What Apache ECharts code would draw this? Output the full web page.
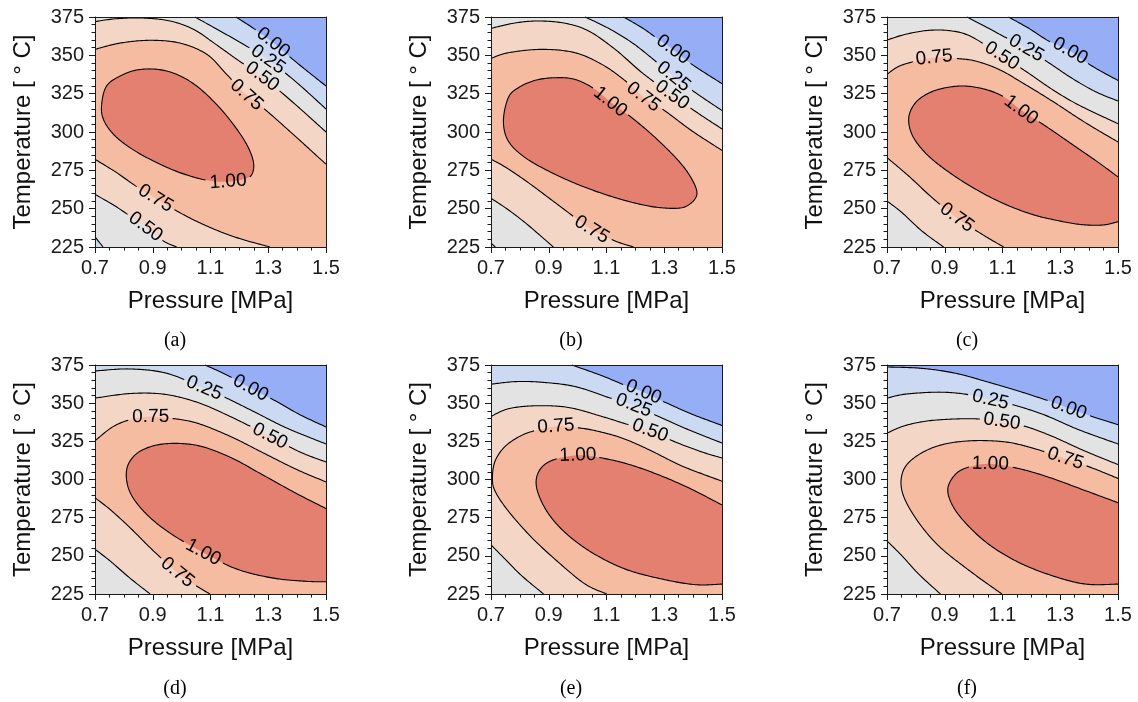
<!DOCTYPE html>
<html><head><meta charset="utf-8">
<script src="https://cdn.jsdelivr.net/npm/echarts@6/dist/echarts.min.js"></script>
<style>html,body{margin:0;padding:0;background:#fff}#c{width:1138px;height:702px}</style>
</head><body><div id="c"></div>
<script>
// ---------------- data ----------------
const levels = [0.00, 0.25, 0.50, 0.75, 1.00];
const bandColors = ['#95aef5', '#cbd9f3', '#e3e3e3', '#f4d6c7', '#f6bca2', '#e48070'];
const captions = ['(a)', '(b)', '(c)', '(d)', '(e)', '(f)'];
const xRange = [0.7, 1.5];   // Pressure [MPa], ticks every 0.2
const yRange = [225, 375];   // Temperature [°C], ticks every 25

// contour curves: [level, 'o' (open, ends on frame; higher values on its right) | 'c' (closed), points [P, T]]
const curvesA = [
  [0.00, 'o', [[1.188,375],[1.249,367.6],[1.317,358.3],[1.399,345.2],[1.5,330]]],
  [0.25, 'o', [[1.046,375],[1.133,365.9],[1.214,357.2],[1.299,347.2],[1.399,332.2],[1.5,315]]],
  [0.25, 'o', [[0.728,225],[0.713,228.5],[0.7,231.7]]],
  [0.50, 'o', [[0.7,372],[0.775,373.9],[0.867,374.3],[0.96,372.4],[1.041,367],[1.11,358.3],[1.191,347.4],[1.279,336.1],[1.387,319.1],[1.5,300]]],
  [0.50, 'o', [[0.983,225],[0.937,228.9],[0.879,237.6],[0.821,245.2],[0.764,252.4],[0.7,259.3]]],
  [0.75, 'o', [[0.7,353.9],[0.787,358],[0.891,359.8],[0.994,358],[1.087,350.7],[1.156,337.6],[1.225,324.1],[1.295,313.7],[1.399,296.3],[1.5,279]]],
  [0.75, 'o', [[1.306,225],[1.191,231.1],[1.087,238.7],[0.983,248.5],[0.85,263.7],[0.775,273.5],[0.7,282.2]]],
  [1.00, 'c', [[0.723,318],[0.74,330],[0.787,336.5],[0.844,340.4],[0.914,340.9],[0.983,337.6],[1.052,330],[1.121,318],[1.179,305],[1.225,292],[1.248,281.1],[1.246,273.5],[1.225,269.8],[1.161,267.6],[1.087,268.5],[0.994,273.5],[0.902,281.1],[0.821,289.8],[0.764,298.5],[0.729,308.3]]]
];
const labelsA = [[0.00,1.317,358.3],[0.25,1.299,347.2],[0.50,1.279,336.1],[0.75,1.225,324.1],[1.00,1.161,267.6],[0.75,0.911,256.1],[0.50,0.873,237.6]];

const curvesB = [
  [0.00, 'o', [[1.159,375],[1.223,368],[1.275,361.1],[1.331,353.7],[1.396,344.1],[1.5,331.5]]],
  [0.25, 'o', [[1.026,375],[1.107,367.6],[1.188,358.3],[1.269,346.3],[1.332,336.1],[1.413,325],[1.5,314]]],
  [0.25, 'o', [[0.715,225],[0.7,227.5]]],
  [0.50, 'o', [[0.7,367.6],[0.783,371.1],[0.864,372.4],[0.957,370.9],[1.038,365.9],[1.13,353.9],[1.223,338.7],[1.327,324.1],[1.419,312],[1.5,302]]],
  [0.50, 'o', [[0.916,225],[0.818,240.9],[0.749,250.7],[0.7,256.7]]],
  [0.75, 'o', [[0.7,348],[0.76,351.7],[0.876,353.9],[0.991,351.7],[1.084,344.1],[1.159,334.3],[1.228,322.8],[1.303,313.7],[1.396,300.7],[1.5,288]]],
  [0.75, 'o', [[1.194,225],[1.13,228.9],[1.049,236.3],[0.945,250.7],[0.829,267],[0.749,277.2],[0.7,282.2]]],
  [1.00, 'c', [[0.743,307.2],[0.76,322.4],[0.795,328.9],[0.853,333.7],[0.922,335.4],[0.991,334.3],[1.061,327.8],[1.113,319.6],[1.188,309.3],[1.269,296.3],[1.35,281.1],[1.396,269.1],[1.413,259.3],[1.384,252.4],[1.338,250.2],[1.246,251.7],[1.13,257.2],[1.014,264.8],[0.91,273.5],[0.818,283.3],[0.76,294.1]]]
];
const labelsB = [[0.00,1.331,353.7],[0.25,1.332,336.1],[0.50,1.327,324.1],[0.75,1.228,322.8],[1.00,1.113,319.6],[0.75,1.049,236.3]];

const curvesC = [
  [0.00, 'o', [[1.121,375],[1.191,367.6],[1.26,359.3],[1.334,352.8],[1.41,343],[1.5,333.6]]],
  [0.25, 'o', [[0.977,375],[1.052,367.6],[1.116,361.1],[1.182,354.6],[1.26,345.2],[1.341,335],[1.422,326.3],[1.5,320.2]]],
  [0.50, 'o', [[0.7,360],[0.764,363.7],[0.844,366.3],[0.925,365.9],[0.994,362],[1.098,349.6],[1.179,339.8],[1.272,327.8],[1.364,317.6],[1.5,305.4]]],
  [0.50, 'o', [[0.896,225],[0.821,235.4],[0.752,247.4],[0.7,255]]],
  [0.75, 'o', [[0.7,337.6],[0.752,343.7],[0.863,348.5],[0.937,348],[1.006,346.3],[1.087,340.9],[1.168,332.2],[1.272,320.2],[1.387,306.1],[1.5,293.5]]],
  [0.75, 'o', [[1.104,225],[1.029,233.3],[0.942,244.1],[0.856,257.2],[0.775,271.3],[0.7,283.3]]],
  [1.00, 'o', [[1.5,241.5],[1.445,239.3],[1.364,239.8],[1.272,243],[1.202,246.3],[1.11,252.8],[1.018,261.5],[0.925,272.4],[0.844,284.3],[0.792,296.3],[0.775,307.2],[0.787,315.9],[0.821,322.8],[0.879,327.8],[0.96,330],[1.041,327.8],[1.11,322.4],[1.164,314.3],[1.249,303.9],[1.341,292],[1.433,280],[1.5,270.7]]]
];
const labelsC = [[0.00,1.334,352.8],[0.25,1.182,354.6],[0.50,1.098,349.6],[0.75,0.863,348.5],[1.00,1.164,314.3],[0.75,0.942,244.1]];

const curvesD = [
  [0.00, 'o', [[1.081,375],[1.156,368.5],[1.239,359.8],[1.329,351.1],[1.41,342.4],[1.5,334.4]]],
  [0.25, 'o', [[0.7,371.1],[0.821,372.4],[0.948,369.6],[1.078,359.8],[1.145,354.3],[1.249,344.6],[1.364,333.7],[1.5,323.3]]],
  [0.50, 'o', [[0.7,353.3],[0.821,356.3],[0.937,355.9],[1.052,350.7],[1.168,341.3],[1.306,328.3],[1.41,318],[1.5,311.5]]],
  [0.50, 'o', [[0.891,225],[0.821,235.4],[0.752,246.7],[0.7,254.3]]],
  [0.75, 'o', [[0.7,325.4],[0.764,334.8],[0.833,339.8],[0.893,341.1],[0.96,340.2],[1.052,337],[1.168,328.3],[1.283,317.4],[1.399,306.5],[1.5,298.4]]],
  [0.75, 'o', [[1.098,225],[1.041,231.5],[0.985,239.1],[0.902,253.3],[0.821,268.5],[0.752,280.4],[0.7,288]]],
  [1.00, 'o', [[1.5,233],[1.433,233.3],[1.318,235.4],[1.191,241.3],[1.075,252.2],[0.971,263.5],[0.891,275],[0.833,287.6],[0.81,298.9],[0.815,309.8],[0.856,318.5],[0.937,323.3],[1.052,322.4],[1.168,314.6],[1.283,302.8],[1.399,290.7],[1.5,281]]]
];
const labelsD = [[0.00,1.239,359.8],[0.25,1.078,359.8],[0.50,1.306,328.3],[0.75,0.893,341.1],[1.00,1.075,252.2],[0.75,0.985,239.1]];

const curvesE = [
  [0.00, 'o', [[0.98,375],[1.084,368],[1.153,362.6],[1.228,357.2],[1.292,351.5],[1.396,342.8],[1.5,335.4]]],
  [0.25, 'o', [[0.7,362.4],[0.783,364.1],[0.876,363.7],[0.991,360.9],[1.107,353.7],[1.194,348.5],[1.28,341.3],[1.384,332.6],[1.5,323.9]]],
  [0.50, 'o', [[0.7,341.3],[0.76,346.3],[0.853,348.3],[0.968,347.2],[1.084,341.3],[1.176,335.9],[1.251,332],[1.338,324.6],[1.431,318],[1.5,314.1]]],
  [0.50, 'o', [[0.882,225],[0.806,237],[0.749,247.8],[0.7,257.2]]],
  [0.75, 'o', [[1.101,225],[1.026,231.5],[0.934,245.7],[0.841,262],[0.76,279.3],[0.714,292.4],[0.705,301.1],[0.714,312],[0.749,321.7],[0.806,328.9],[0.864,332.6],[0.925,334.8],[0.991,334.1],[1.061,332],[1.153,327.2],[1.246,319.6],[1.35,309.8],[1.431,303.7],[1.5,298.9]]],
  [1.00, 'o', [[1.5,231.5],[1.408,231.1],[1.292,234.8],[1.165,241.3],[1.049,252.2],[0.957,265.2],[0.893,279.3],[0.858,294.6],[0.866,305.4],[0.91,312.4],[1.001,315.9],[1.095,313.7],[1.188,309.3],[1.292,302.2],[1.396,293.5],[1.5,283.3]]]
];
const labelsE = [[0.00,1.228,357.2],[0.25,1.194,348.5],[0.50,1.251,332],[0.75,0.925,334.8],[1.00,1.001,315.9]];

const curvesF = [
  [0.00, 'o', [[0.7,373.7],[0.821,372.8],[0.937,369.6],[1.052,363.7],[1.168,357.2],[1.272,350.7],[1.329,346.7],[1.399,342],[1.5,335.9]]],
  [0.25, 'o', [[0.7,353.3],[0.764,355.9],[0.879,357.2],[0.971,355.9],[1.058,352.2],[1.145,348.5],[1.249,342],[1.364,332.6],[1.5,323.3]]],
  [0.50, 'o', [[0.7,330.4],[0.764,335.4],[0.856,338.7],[0.994,339.8],[1.098,338],[1.179,334.8],[1.272,328.3],[1.387,318.5],[1.5,309.8]]],
  [0.50, 'o', [[0.885,225],[0.81,238],[0.752,250],[0.7,259.8]]],
  [0.75, 'o', [[1.098,225],[0.994,239.1],[0.879,256.5],[0.798,275],[0.752,292.4],[0.758,306.5],[0.81,316.3],[0.891,322.8],[0.994,325.4],[1.11,324.6],[1.202,320.7],[1.318,313.7],[1.41,307.6],[1.5,300.7]]],
  [1.00, 'o', [[1.5,231.5],[1.387,231.5],[1.272,237],[1.156,245.7],[1.052,257.6],[0.971,271.7],[0.925,283.7],[0.911,294.6],[0.942,304.3],[0.994,308.7],[1.058,310.2],[1.156,307.2],[1.26,301.5],[1.376,293.5],[1.5,284.8]]]
];
const labelsF = [[0.25,1.058,352.2],[0.00,1.329,346.7],[0.50,1.098,338],[0.75,1.318,313.7],[1.00,1.058,310.2]];

const panelCurves = [curvesA, curvesB, curvesC, curvesD, curvesE, curvesF];
const panelLabels = [labelsA, labelsB, labelsC, labelsD, labelsE, labelsF];

// ---------------- drawing helpers ----------------
const clamp = (v, a, b) => Math.max(a, Math.min(b, v));
function smooth(p, closed) {
  const n = p.length, out = [];
  if (n < 3) return p.slice();
  const get = i => closed ? p[(i + n) % n] : p[Math.max(0, Math.min(n - 1, i))];
  const segs = closed ? n : n - 1;
  for (let i = 0; i < segs; i++) {
    const p0 = get(i - 1), p1 = get(i), p2 = get(i + 1), p3 = get(i + 2);
    const L = Math.hypot(p2[0] - p1[0], p2[1] - p1[1]);
    const m = Math.max(2, Math.ceil(L / 1.5));
    for (let k = 0; k < m; k++) {
      const t = k / m, t2 = t * t, t3 = t2 * t;
      out.push([0, 1].map(j => 0.5 * (2 * p1[j] + (-p0[j] + p2[j]) * t +
        (2 * p0[j] - 5 * p1[j] + 4 * p2[j] - p3[j]) * t2 +
        (-p0[j] + 3 * p1[j] - 3 * p2[j] + p3[j]) * t3)));
    }
  }
  if (!closed) out.push(p[n - 1].slice());
  return out;
}
function perim(q, R) {
  const w = R.x1 - R.x0, h = R.y1 - R.y0;
  const d = [q[1] - R.y0, R.x1 - q[0], R.y1 - q[1], q[0] - R.x0];
  let k = 0; for (let i = 1; i < 4; i++) if (d[i] < d[k]) k = i;
  if (k === 0) return (q[0] - R.x0) / w;
  if (k === 1) return 1 + (q[1] - R.y0) / h;
  if (k === 2) return 2 + (R.x1 - q[0]) / w;
  return 3 + (R.y1 - q[1]) / h;
}
function buildRegions(curves, R) {
  const corners = [[R.x0, R.y0], [R.x1, R.y0], [R.x1, R.y1], [R.x0, R.y1]];
  const polys = [];
  curves.filter(c => c.closed).forEach(c => polys.push(c.pts.slice()));
  const unused = curves.filter(c => !c.closed);
  while (unused.length) {
    const start = unused.shift();
    const poly = start.pts.slice();
    let cur = start;
    for (let guard = 0; guard < 12; guard++) {
      const tEnd = perim(cur.pts[cur.pts.length - 1], R);
      let best = null, bd = Infinity;
      [start].concat(unused).forEach(c => {
        let d = perim(c.pts[0], R) - tEnd; d = ((d % 4) + 4) % 4;
        if (d < bd) { bd = d; best = c; }
      });
      for (let k = Math.floor(tEnd) + 1; k < tEnd + bd; k++) poly.push(corners[k % 4]);
      if (best === start) break;
      poly.push(...best.pts);
      unused.splice(unused.indexOf(best), 1);
      cur = best;
    }
    polys.push(poly);
  }
  return polys;
}

const LABEL_FONT = 19;
function renderPanel(pi, api) {
  const tl = api.coord([xRange[0], yRange[1]]), br = api.coord([xRange[1], yRange[0]]);
  const R = { x0: tl[0], y0: tl[1], x1: br[0], y1: br[1] };
  const curves = panelCurves[pi].map(c => {
    const closed = c[1] === 'c';
    const px = c[2].map(p => api.coord(p));
    const pts = smooth(px, closed).map(q => [clamp(q[0], R.x0, R.x1), clamp(q[1], R.y0, R.y1)]);
    return { level: c[0], closed, pts, gaps: [] };
  });
  const children = [{ type: 'rect', shape: { x: R.x0, y: R.y0, width: R.x1 - R.x0, height: R.y1 - R.y0 }, style: { fill: bandColors[0] } }];
  levels.forEach((L, li) => {
    const polys = buildRegions(curves.filter(c => Math.abs(c.level - L) < 1e-6), R);
    polys.forEach(poly => children.push({ type: 'polygon', shape: { points: poly }, style: { fill: bandColors[li + 1] } }));
  });
  // labels: snap to nearest curve of same level
  const texts = [];
  panelLabels[pi].forEach(lb => {
    const c0 = api.coord([lb[1], lb[2]]);
    let bc = null, bi = 0, bdist = Infinity;
    curves.forEach(c => {
      if (Math.abs(c.level - lb[0]) > 1e-6) return;
      c.pts.forEach((q, i) => { const d = Math.hypot(q[0] - c0[0], q[1] - c0[1]); if (d < bdist) { bdist = d; bc = c; bi = i; } });
    });
    if (!bc) return;
    const n = bc.pts.length;
    const ia = bc.closed ? (bi - 6 + n) % n : Math.max(0, bi - 6);
    const ib = bc.closed ? (bi + 6) % n : Math.min(n - 1, bi + 6);
    const a = bc.pts[ia], b = bc.pts[ib];
    let ang = Math.atan2(-(b[1] - a[1]), b[0] - a[0]);
    if (ang > Math.PI / 2) ang -= Math.PI;
    if (ang < -Math.PI / 2) ang += Math.PI;
    const center = bc.pts[bi];
    const txt = lb[0].toFixed(2);
    const half = LABEL_FONT * 1.946 / 2 + 3;
    bc.gaps.push([center, half]);
    texts.push({ type: 'text', x: center[0], y: center[1], rotation: ang,
      style: { text: txt, fill: '#000', fontSize: LABEL_FONT, fontFamily: '"Liberation Sans", Arial, sans-serif',
        align: 'center', verticalAlign: 'middle', textAlign: 'center', textVerticalAlign: 'middle' } });
  });
  curves.forEach(c => {
    const pts = c.closed ? c.pts.concat([c.pts[0]]) : c.pts;
    let run = [];
    const flush = () => { if (run.length > 1) children.push({ type: 'polyline', shape: { points: run }, style: { stroke: '#000', lineWidth: 1.1, fill: null } }); run = []; };
    pts.forEach(q => {
      const hidden = c.gaps.some(g => Math.hypot(q[0] - g[0][0], q[1] - g[0][1]) < g[1]);
      if (hidden) flush(); else run.push(q);
    });
    flush();
  });
  return { type: 'group', children: children.concat(texts) };
}

// ---------------- chart ----------------
const lefts = [95, 491, 887], tops = [17, 365], heights = [230, 229], W = 231;
const capX = [175, 571, 967], capY = [341, 689];
const axisCol = '#1a1a1a';
const tickFont = { fontSize: 20, fontFamily: '"Liberation Sans", Arial, sans-serif', color: '#1a1a1a' };
const nameFont = { fontSize: 24, fontFamily: '"Liberation Sans", Arial, sans-serif', color: '#111' };
const grid = [], xAxis = [], yAxis = [], series = [], graphic = [];
for (let i = 0; i < 6; i++) {
  const col = i % 3, row = Math.floor(i / 3);
  grid.push({ left: lefts[col], top: tops[row], width: W, height: heights[row], containLabel: false, outerBoundsMode: 'none' });
  const line = { show: true, onZero: false, lineStyle: { color: axisCol, width: 1 } };
  xAxis.push({ gridIndex: i, type: 'value', min: xRange[0], max: xRange[1], interval: 0.2, position: 'bottom', z: 10,
    name: 'Pressure [MPa]', nameLocation: 'middle', nameGap: 42, nameTextStyle: nameFont,
    axisLine: line, axisTick: { show: true, length: 6, lineStyle: { color: axisCol } },
    minorTick: { show: true, splitNumber: 4, length: 3.5, lineStyle: { color: axisCol } },
    axisLabel: Object.assign({ margin: 11, formatter: v => (+v).toFixed(1) }, tickFont), splitLine: { show: false } });
  xAxis.push({ gridIndex: i, type: 'value', min: xRange[0], max: xRange[1], position: 'top', z: 10,
    axisLine: line, axisTick: { show: false }, axisLabel: { show: false }, splitLine: { show: false } });
  yAxis.push({ gridIndex: i, type: 'value', min: yRange[0], max: yRange[1], interval: 25, position: 'left', z: 10,
    name: 'Temperature [ \u00b0 C]', nameLocation: 'middle', nameRotate: 90, nameGap: 60, nameTextStyle: nameFont,
    axisLine: line, axisTick: { show: true, length: 6, lineStyle: { color: axisCol } },
    minorTick: { show: true, splitNumber: 5, length: 3.5, lineStyle: { color: axisCol } },
    axisLabel: Object.assign({ margin: 11 }, tickFont), splitLine: { show: false } });
  yAxis.push({ gridIndex: i, type: 'value', min: yRange[0], max: yRange[1], position: 'right', z: 10,
    axisLine: line, axisTick: { show: false }, axisLabel: { show: false }, splitLine: { show: false } });
  series.push({ type: 'custom', coordinateSystem: 'cartesian2d', xAxisIndex: 2 * i, yAxisIndex: 2 * i, z: 2, silent: true,
    data: [[1.1, 300]], renderItem: (params, api) => renderPanel(i, api) });
  graphic.push({ type: 'text', x: capX[col], y: capY[row], silent: true,
    style: { text: captions[i], fill: '#000', font: '20px "Liberation Serif", "Times New Roman", serif',
      align: 'center', verticalAlign: 'middle', textAlign: 'center', textVerticalAlign: 'middle' } });
}
const chart = echarts.init(document.getElementById('c'), null, { renderer: 'canvas' });
chart.setOption({ backgroundColor: '#fff', animation: false, grid, xAxis, yAxis, series, graphic });
</script>
</body></html>
